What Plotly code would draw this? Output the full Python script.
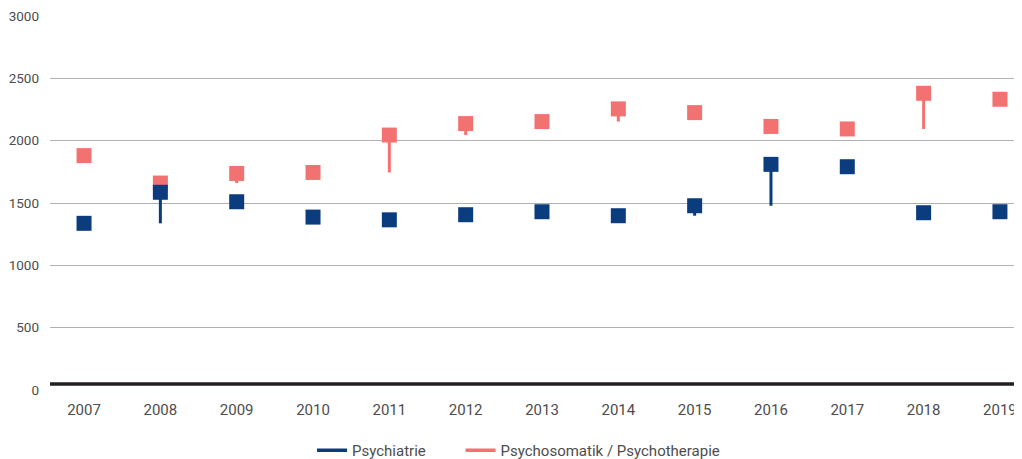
import plotly.graph_objects as go

years = [2007, 2008, 2009, 2010, 2011, 2012, 2013, 2014, 2015, 2016, 2017, 2018, 2019]
psychiatrie = [1337, 1586, 1510, 1387, 1365, 1406, 1430, 1398, 1478, 1810, 1791, 1422, 1430]
psychosomatik = [1880, 1660, 1737, 1745, 2045, 2137, 2153, 2255, 2225, 2114, 2094, 2380, 2332]
series_names = ["Psychiatrie", "Psychosomatik / Psychotherapie"]
y_ticks = [0, 500, 1000, 1500, 2000, 2500, 3000]

BLUE = "#0a3c7e"
RED = "#f27272"
FONT = "Liberation Sans Narrow, Roboto, sans-serif"
TXT = "#4d4d4d"


def rise_from_previous(vals):
    out = [0]
    for i in range(1, len(vals)):
        out.append(max(0, vals[i] - vals[i - 1]))
    return out


fig = go.Figure()
# red series drawn first so the blue squares sit on top where they overlap
for name, vals, col in [(series_names[1], psychosomatik, RED), (series_names[0], psychiatrie, BLUE)]:
    fig.add_trace(go.Scatter(
        x=years, y=vals, mode="markers", name=name, showlegend=False,
        marker=dict(symbol="square", size=15, color=col, line=dict(width=0)),
        error_y=dict(type="data", symmetric=False, array=[0] * len(vals),
                     arrayminus=rise_from_previous(vals), color=col, thickness=3, width=0),
        cliponaxis=False,
    ))
legend_pad = ["\u00a0" * 8, ""]
for name, col, pad in [(series_names[0], BLUE, legend_pad[0]), (series_names[1], RED, legend_pad[1])]:
    fig.add_trace(go.Scatter(x=[None], y=[None], mode="lines", name=name + pad,
                             line=dict(color=col, width=3.5)))

fig.add_shape(type="line", xref="paper", yref="paper", x0=0, x1=1, y0=0.016, y1=0.016,
              line=dict(color="#231f20", width=3.5))

fig.update_layout(
    width=1014, height=459,
    margin=dict(l=42, r=0, t=8, b=77, autoexpand=False),
    paper_bgcolor="white", plot_bgcolor="white",
    font=dict(family=FONT, size=15, color=TXT),
    showlegend=True,
    legend=dict(orientation="h", x=0.5035, xanchor="center", xref="container", y=0.0, yanchor="bottom",
                yref="container", font=dict(size=15, color=TXT), itemwidth=30, tracegroupgap=0),
    xaxis=dict(range=[2006.554, 2019.289], tickmode="array", tickvals=years,
               ticktext=[str(y) for y in years], showgrid=False, zeroline=False,
               showline=False, ticks="", ticklabelstandoff=9, ticklabeloverflow="allow",
               tickfont=dict(size=15)),
    yaxis=dict(range=[0, 3000], tickvals=y_ticks, showgrid=True, gridcolor="#b0b0b0", gridwidth=1,
               zeroline=True, zerolinecolor="white", zerolinewidth=1, showline=False,
               ticks="", ticklabelstandoff=10, ticklabeloverflow="allow", tickfont=dict(size=13.5)),
)

fig.write_html("out.html")
